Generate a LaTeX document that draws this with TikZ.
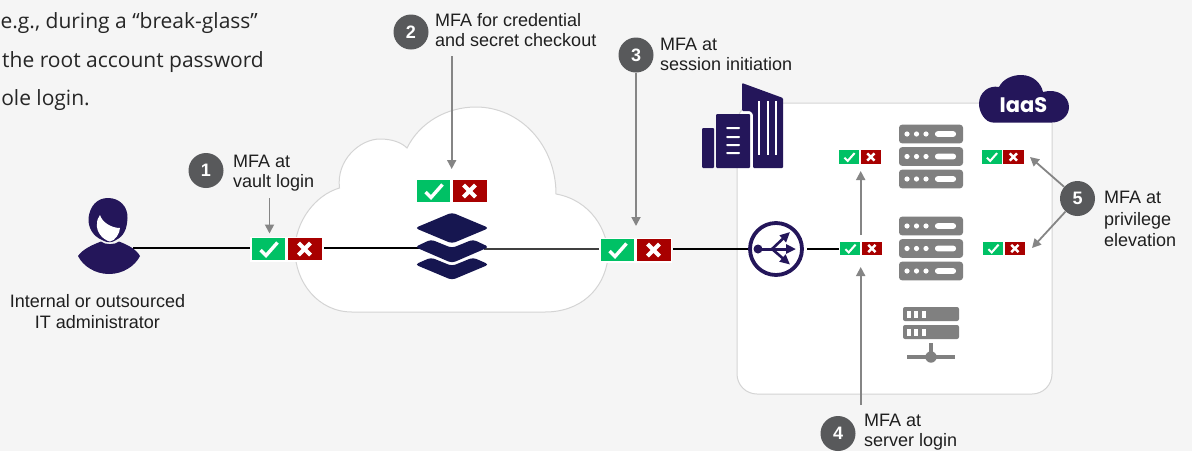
\documentclass[tikz,border=0pt]{standalone}
\usepackage{fontspec}
\setmainfont{Liberation Sans}
\newfontfamily\intro{Open Sans}
\newfontfamily\geom{Poppins}
\usetikzlibrary{arrows.meta}
\definecolor{bgc}{HTML}{F5F5F5}
\definecolor{navy}{HTML}{24165A}
\definecolor{stackc}{HTML}{161650}
\definecolor{okc}{HTML}{00C165}
\definecolor{noc}{HTML}{A80000}
\definecolor{greyarrow}{HTML}{858585}
\definecolor{badge}{HTML}{58595B}
\definecolor{srv}{HTML}{808080}
\definecolor{edgec}{HTML}{D4D4D4}
\tikzset{
  x=1pt,y=-1pt,
  lab/.style={font=\fontsize{18}{20}\selectfont,text=black!88,align=left,anchor=west,inner sep=0pt},
  labw/.style={font=\fontsize{18}{21.5}\selectfont,text=black!88,align=left,anchor=west,inner sep=0pt},
  labc/.style={font=\fontsize{18}{21}\selectfont,text=black!88,align=center,inner sep=0pt},
  introtext/.style={font=\intro\fontsize{21}{24}\selectfont,text=black!85,anchor=base east,inner sep=0pt},
  num/.style={circle,fill=badge,text=white,inner sep=0pt,minimum size=35pt,font=\bfseries\fontsize{18}{18}\selectfont},
  callout/.style={draw=greyarrow,line width=1.8pt,-{Triangle[length=9pt,width=9pt]}},
  wire/.style={draw=black,line width=2pt},
}
% tick / cross pair: \mfa{name}{cx}{cy}{scale}
\newcommand{\mfa}[4]{%
  \begin{scope}[shift={(#2,#3)},scale=#4]
    \fill[white] (-36.5,-12.5) rectangle (36.5,12.5);
    \fill[okc] (-35,-11) rectangle (-1.5,11);
    \fill[noc] (1.5,-11) rectangle (35,11);
    \draw[white,line width=#4*3.4pt] (-26,1) -- (-20.5,6.5) -- (-9,-6.5);
    \draw[white,line width=#4*4.2pt] (12,-6) -- (24,6) (24,-6) -- (12,6);
  \end{scope}
  \coordinate (#1) at (#2,#3);}
% server rack row
\newcommand{\rackrow}[2]{%
  \fill[srv,rounded corners=3pt] (#1,#2-9.3) rectangle ++(64,18.6);
  \foreach \dx in {8,17.5,27}{\fill[white] (#1+\dx,#2) circle (2.6pt);}
  \fill[white,rounded corners=2.6pt] (#1+36,#2-2.8) rectangle (#1+57,#2+2.8);}
\newcommand{\rack}[2]{\rackrow{#1}{#2-22.5}\rackrow{#1}{#2}\rackrow{#1}{#2+22.5}}
\begin{document}
\begin{tikzpicture}
\useasboundingbox (0,0) rectangle (1192,451);
\fill[bgc] (0,0) rectangle (1192,451);

% intro text
\node[introtext] (introa) at (258,28) {e.g., during a “break-glass”};
\node[introtext] (introb) at (264,67) {the root account password};
\node[introtext] (introc) at (90,105) {ole login.};

% cloud
\draw[edgec,fill=white,line width=1pt]
  (352,312)
  .. controls (318,312) and (295,282) .. (295,250)
  .. controls (295,222) and (315,195) .. (339.5,188)
  .. controls (336,160) and (360,139) .. (380,139)
  .. controls (393,139) and (402,143) .. (407,148)
  .. controls (420,122) and (447,107) .. (476,107)
  .. controls (520,107) and (556,145) .. (556,194)
  .. controls (590,200) and (609,230) .. (608,258)
  .. controls (604,290) and (580,312) .. (545,312)
  -- cycle;

% IaaS panel
\draw[edgec,fill=white,line width=1pt,rounded corners=20pt] (737,103) rectangle (1052,394);

% wires
\coordinate (userr) at (133,248);
\coordinate (wa) at (250,248);
\coordinate (wb) at (324,248);
\coordinate (wc) at (420,248);
\coordinate (wd) at (484,248.5);
\coordinate (we) at (599,248.5);
\coordinate (wf) at (673,248.5);
\coordinate (wg) at (748,248.5);
\coordinate (wh) at (807,248.5);
\coordinate (wi) at (839,248.5);
\draw[wire] (userr) -- (wa);
\draw[wire] (wb) -- (wc);
\draw[wire,black!75] (wd) -- (we);
\draw[wire] (wf) -- (wg);
\draw[wire] (wh) -- (wi);
\mfa{vaultmfa}{286.5}{249}{1}
\mfa{sessmfa}{635.5}{250}{1}
\mfa{checkout}{451.5}{191}{1}

% person
\fill[navy] (78,256)
  .. controls (83,249) and (92,245) .. (101,241.5)
  .. controls (105,245) and (115,245) .. (119,241.5)
  .. controls (128,245) and (136,249) .. (140,256)
  .. controls (135,266) and (123,274) .. (109,274)
  .. controls (95,274) and (83,266) .. (78,256) -- cycle;
\fill[navy] (108,198) .. controls (120,198) and (128,207) .. (127.5,218)
  .. controls (127,229) and (124,236) .. (116,240)
  .. controls (112,243) and (107,243) .. (102,240)
  .. controls (93,236) and (88,228) .. (88.5,218)
  .. controls (90,206) and (97,198) .. (108,198) -- cycle;
\fill[white] (97,224) .. controls (97,220) and (98,218) .. (100,215)
  .. controls (102,222) and (111,228) .. (120,228)
  .. controls (120,233) and (115,241) .. (110,241.5)
  .. controls (103,240) and (96,232) .. (97,224) -- cycle;
\node[labc] (userlab) at (97.5,311.5) {Internal or outsourced\\IT administrator};

% stack icon
\begin{scope}[rounded corners=3.5pt]
\fill[stackc] (452,212.5) -- (489,228) -- (452,243.5) -- (415,228) -- cycle;
\fill[stackc] (452,263) -- (489,247) -- (473,239.5) -- (452,248) -- (431,239.5) -- (415,247) -- cycle;
\fill[stackc] (452,280) -- (489,264.5) -- (473,257.5) -- (452,266) -- (431,257.5) -- (415,264.5) -- cycle;
\end{scope}

% building
\fill[navy,rounded corners=1pt] (702,128) rectangle (714,168);
\fill[navy,rounded corners=1pt] (716,114) rectangle (750,168);
\fill[navy,rounded corners=1pt] (742,83) -- (783,98) -- (783,168) -- (753,168) -- (753,114) -- (750,111) -- (742,111) -- cycle;
\foreach \yy in {128,137,145,153}{\fill[white,rounded corners=1pt] (726,\yy-1) rectangle (740,\yy+1);}
\foreach \xx in {759,768,776}{\fill[white] (\xx-1.4,101) rectangle (\xx+1.4,155);}

% IaaS cloud
\fill[navy] (993,122.5)
  .. controls (985,122.5) and (979,112) .. (979,104)
  .. controls (979,92) and (989,85) .. (999,87)
  .. controls (1003,79) and (1012,75) .. (1021,75)
  .. controls (1033,75) and (1041,83) .. (1043,92)
  .. controls (1057,88) and (1069,96) .. (1069,107)
  .. controls (1069,116) and (1061,122.5) .. (1052,122.5) -- cycle;
\node[font=\geom\bfseries\fontsize{21}{21}\selectfont,text=white,inner sep=0pt] (iaaslab) at (1023.5,105) {IaaS};

% racks
\rack{899}{156.5}
\rack{899}{248.5}

% network server
\fill[srv,rounded corners=2pt] (903,307) rectangle (959,321);
\fill[srv,rounded corners=2pt] (903,325) rectangle (959,339);
\foreach \yy in {314,332}\foreach \xx in {908.5,916,923.5}{\fill[white] (\xx-2,\yy-3.5) rectangle (\xx+2,\yy+3.5);}
\fill[srv] (929,343) rectangle (933,358);
\fill[srv] (907,355) rectangle (955,359);
\fill[srv] (931,357) circle (5.7pt);

% router
\node[circle,draw=navy,line width=3.8pt,fill=white,minimum size=52pt,inner sep=0pt] (router) at (776,249) {};
\begin{scope}[navy]
\fill (758,249) circle (4.5pt);
\draw[line width=3pt,-{Triangle[length=10pt,width=9pt]}] (758,249) -- (796,249);
\draw[line width=2.6pt,-{Triangle[length=10pt,width=9pt]}] (772,249) -- (790,232);
\draw[line width=2.6pt,-{Triangle[length=10pt,width=9pt]}] (772,249) -- (790,264.5);
\end{scope}

% small mfa
\mfa{srvtop}{860}{157}{0.6}
\mfa{srvmid}{861}{248.5}{0.6}
\mfa{privtop}{1002.5}{157}{0.6}
\mfa{privmid}{1004}{248.5}{0.6}

% badges and labels
\node[num] (n1) at (206,170.5) {1};
\node[lab] (l1) at (233,173.5) {MFA at\\vault login};
\node[num] (n2) at (411,32) {2};
\node[lab] (l2) at (435,30) {MFA for credential\\and secret checkout};
\node[num] (n3) at (636,55) {3};
\node[lab] (l3) at (660,54.5) {MFA at\\session initiation};
\node[num] (n4) at (838,433.5) {4};
\node[lab] (l4) at (864,432) {MFA at\\server login};
\node[num] (n5) at (1077.5,198.5) {5};
\node[labw] (l5) at (1104,219) {MFA at\\privilege\\elevation};

% callouts
\coordinate (a1s) at (269.5,198);
\coordinate (a1e) at (269.5,233.5);
\draw[callout] (a1s) -- (a1e);
\coordinate (a2s) at (451.7,56);
\coordinate (a2e) at (451.7,169);
\draw[callout] (a2s) -- (a2e);
\coordinate (a3e) at (636,226);
\draw[callout] (n3) -- (a3e);
\coordinate (a4s) at (860.7,405);
\coordinate (a4e) at (860.7,267);
\draw[callout] (a4s) -- (a4e);
\coordinate (a4bs) at (860.7,235);
\coordinate (a4be) at (860.7,171);
\draw[callout] (a4bs) -- (a4be);
\coordinate (a5a) at (1030,157);
\coordinate (a5b) at (1032,248);
\draw[callout] (n5) -- (a5a);
\draw[callout] (n5) -- (a5b);
\end{tikzpicture}
\end{document}
